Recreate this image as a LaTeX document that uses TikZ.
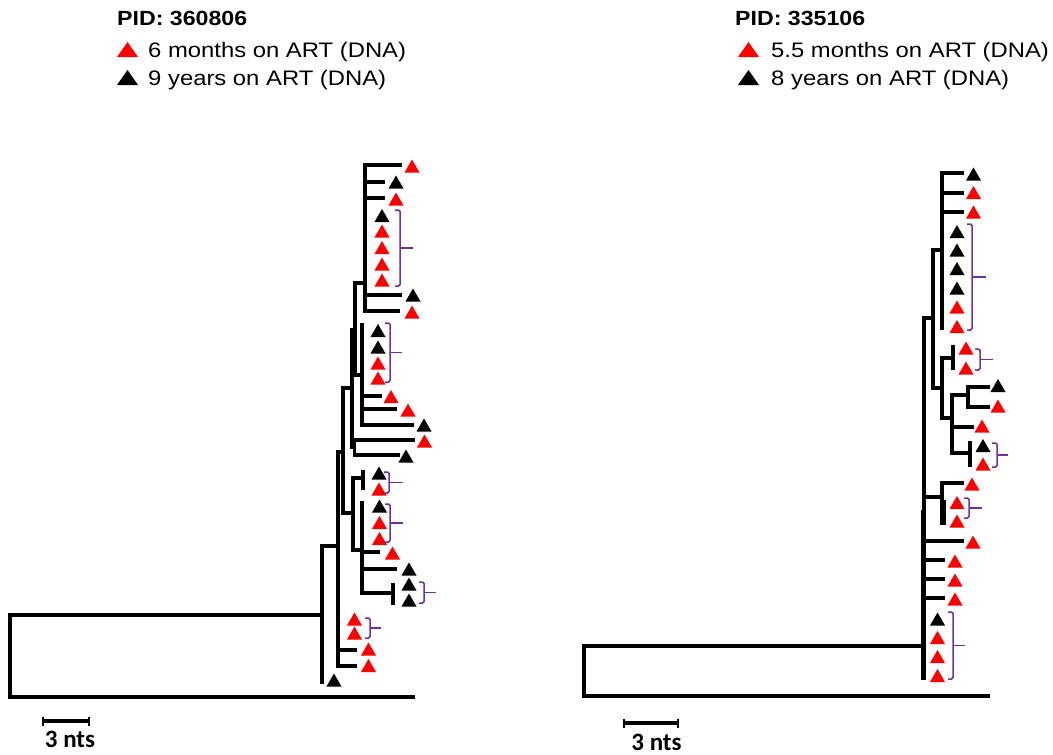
\documentclass[tikz,border=0pt]{standalone}
\usepackage{fontspec}
\setmainfont{Liberation Sans}
\newfontfamily\calfont{Carlito}
\definecolor{brpurple}{RGB}{112,48,160}
\newcommand\tipt[3]{\fill[#3] ({#1-7.5},{#2+6.5}) -- ({#1+7.5},{#2+6.5}) -- (#1,{#2-6.5}) -- cycle;}
\newcommand\brk[4]{\draw[brline] ({#1-5},#2) -- (#1,#2) -- (#1,#3) -- ({#1-5},#3);
  \draw[brline] (#1,{(#2+#3)/2}) -- (#4,{(#2+#3)/2});}
\begin{document}
\begin{tikzpicture}[x=1pt,y=-1pt,
  tl/.style={line width=3.2pt,line cap=rect,black},
  brline/.style={line width=1.5pt,brpurple,rounded corners=1.5pt},
  legtxt/.style={anchor=base west,inner sep=0pt,font=\fontsize{21}{25}\selectfont,xscale=1.135},
  pidtxt/.style={anchor=base west,inner sep=0pt,font=\fontsize{20.5}{24}\selectfont\bfseries,xscale=1.13},
  scaletxt/.style={anchor=base,inner sep=0pt,font=\fontsize{25}{30}\selectfont\calfont\bfseries}]
\useasboundingbox (0,0) rectangle (1053,755);

% ---------- headers / legends ----------
\node[pidtxt] (pidA) at (117,25) {PID: 360806};
\fill[red] (117,57) -- (138,57) -- (127.5,42) -- cycle;
\node[legtxt] (legA1) at (148,57) {6 months on ART (DNA)};
\fill[black] (117,85) -- (138,85) -- (127.5,70) -- cycle;
\node[legtxt] (legA2) at (148,85) {9 years on ART (DNA)};

\node[pidtxt] (pidB) at (735,25) {PID: 335106};
\fill[red] (738,57) -- (759,57) -- (748.5,42) -- cycle;
\node[legtxt] (legB1) at (771,57) {5.5 months on ART (DNA)};
\fill[black] (738,85) -- (759,85) -- (748.5,70) -- cycle;
\node[legtxt] (legB2) at (771,85) {8 years on ART (DNA)};

% ---------- left tree ----------
\draw[tl] (322,615) -- (10,615) -- (10,697) -- (413,697);
\draw[tl] (322,546) -- (322,682);
\draw[tl] (322,546) -- (338,546);
\draw[tl] (338,452) -- (338,666);
\draw[tl] (338,650) -- (355,650);
\draw[tl] (338,666) -- (355,666);
\draw[tl] (338,452) -- (343,452);
\draw[tl] (343,388) -- (343,513);
\draw[tl] (343,388) -- (352,388);
\draw[tl] (352,330) -- (352,447);
\draw[tl] (352,330) -- (355,330);
\draw[tl] (355,283) -- (355,375);
\draw[tl] (355,283) -- (365,283);
\draw[tl] (365,165) -- (365,311);
\draw[tl] (365,165) -- (400,165);
\draw[tl] (365,182) -- (383,182);
\draw[tl] (365,198) -- (383,198);
\draw[tl] (365,295) -- (400,295);
\draw[tl] (365,311) -- (398,311);
\draw[tl] (355,375) -- (362,375);
\draw[tl] (362,325) -- (362,425);
\draw[tl] (362,396) -- (380,396);
\draw[tl] (362,409) -- (395,409);
\draw[tl] (362,425) -- (412,425);
\draw[tl] (352,447) -- (354,447);
\draw[tl] (354.5,440) -- (354.5,455);
\draw[tl] (354.5,440) -- (413,440);
\draw[tl] (354.5,455) -- (398,455);
\draw[tl] (343,513) -- (353,513);
\draw[tl] (353,478) -- (353,550);
\draw[tl] (353,478) -- (363,478);
\draw[tl] (363,472) -- (363,488);
\draw[tl] (353,550) -- (362,550);
\draw[tl] (362,503) -- (362,593);
\draw[tl] (362,552) -- (378,552);
\draw[tl] (362,569) -- (395,569);
\draw[tl] (362,593) -- (393,593);
\draw[tl] (393,585) -- (393,603);

\tipt{412}{166}{red}
\tipt{396}{182}{black}
\tipt{396}{199}{red}
\tipt{382}{215.5}{black}
\tipt{382}{231}{red}
\tipt{382}{247.5}{red}
\tipt{382}{264}{red}
\tipt{382}{280}{red}
\tipt{413}{295}{black}
\tipt{412}{312}{red}
\tipt{378}{330.5}{black}
\tipt{378}{347}{black}
\tipt{378}{363}{red}
\tipt{378}{378}{red}
\tipt{391}{396.5}{red}
\tipt{408}{410}{red}
\tipt{424}{425}{black}
\tipt{424.5}{441}{red}
\tipt{406}{456}{black}
\tipt{379}{473}{black}
\tipt{379}{489}{red}
\tipt{379.5}{506}{black}
\tipt{379.5}{522.5}{red}
\tipt{379.5}{538.5}{red}
\tipt{392.5}{553}{red}
\tipt{409}{569}{black}
\tipt{409}{584}{black}
\tipt{409}{600}{black}
\tipt{354.5}{619}{red}
\tipt{354.5}{633}{red}
\tipt{368.5}{649}{red}
\tipt{368.5}{665.5}{red}
\tipt{334}{680}{black}

\brk{400}{210}{286}{413}
\brk{390}{323}{382}{402}
\brk{389}{472}{493}{403}
\brk{390}{504}{542}{403}
\brk{424}{582}{603}{436}
\brk{370}{618}{638}{381}

% ---------- right tree ----------
\draw[tl] (924,646) -- (584,646) -- (584,696) -- (988,696);
\draw[tl] (924,318) -- (924,678);
\draw[tl] (922.5,512) -- (922.5,678);
\draw[tl] (924,318) -- (933,318);
\draw[tl] (933,250) -- (933,388);
\draw[tl] (933,250) -- (942,250);
\draw[tl] (942,173) -- (942,328);
\draw[tl] (942,173) -- (962,173);
\draw[tl] (942,193) -- (962,193);
\draw[tl] (942,212) -- (962,212);
\draw[tl] (933,388) -- (942,388);
\draw[tl] (942,358) -- (942,418);
\draw[tl] (942,358) -- (953,358);
\draw[tl] (953,347) -- (953,368);
\draw[tl] (942,418) -- (952,418);
\draw[tl] (952,395) -- (952,453);
\draw[tl] (952,395) -- (968,395);
\draw[tl] (968,387) -- (968,407);
\draw[tl] (968,387) -- (988,387);
\draw[tl] (968,407) -- (988,407);
\draw[tl] (952,427) -- (972,427);
\draw[tl] (952,453) -- (970,453);
\draw[tl] (970,443) -- (970,465);
\draw[tl] (924,497) -- (942,497);
\draw[tl] (942,483) -- (942,523);
\draw[tl] (944.5,502) -- (944.5,523);
\draw[tl] (942,483) -- (962,483);
\draw[tl] (924,541) -- (962,541);
\draw[tl] (924,560) -- (943,560);
\draw[tl] (924,579) -- (943,579);
\draw[tl] (924,598) -- (943,598);

\tipt{973.5}{174}{black}
\tipt{973.5}{192.5}{red}
\tipt{973.5}{212}{red}
\tipt{957}{231.5}{black}
\tipt{957}{250}{black}
\tipt{957}{268.5}{black}
\tipt{957}{288}{black}
\tipt{957}{307}{red}
\tipt{957}{326.5}{red}
\tipt{966}{348}{red}
\tipt{966}{368}{red}
\tipt{998}{385.5}{black}
\tipt{998}{406}{red}
\tipt{982}{426}{red}
\tipt{983}{445.5}{black}
\tipt{983}{464}{red}
\tipt{972}{484}{red}
\tipt{957}{502.5}{red}
\tipt{957}{521}{red}
\tipt{973}{542}{red}
\tipt{955}{561}{red}
\tipt{955}{580}{red}
\tipt{955}{599}{red}
\tipt{937.5}{619}{black}
\tipt{937.5}{637.5}{red}
\tipt{937.5}{656.5}{red}
\tipt{937.5}{675.5}{red}

\brk{972}{224}{330}{986}
\brk{980}{349}{370}{993}
\brk{997}{443}{467}{1008}
\brk{969}{498}{518}{982}
\brk{953}{612}{679}{965}

% ---------- scale bars ----------
\draw[tl,line cap=butt] (43,721) -- (89,721);
\draw[line width=2.5pt] (43,716.5) -- (43,725.5) (89,716.5) -- (89,725.5);
\node[scaletxt] (scA) at (70,747) {3 nts};
\draw[tl,line cap=butt] (624,723) -- (678,723);
\draw[line width=2.5pt] (624,718.5) -- (624,727.5) (678,718.5) -- (678,727.5);
\node[scaletxt] (scB) at (656.5,750.5) {3 nts};
\end{tikzpicture}
\end{document}
